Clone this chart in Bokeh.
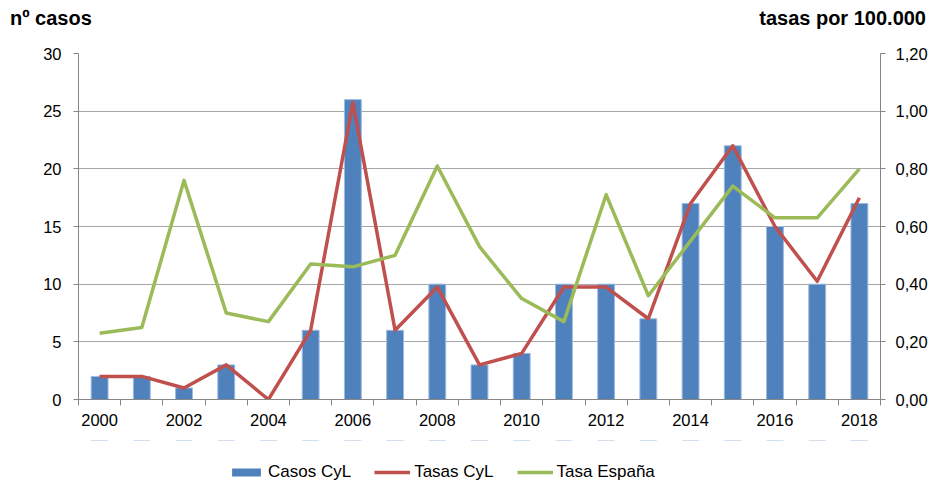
from bokeh.plotting import figure
from bokeh.models import (Range1d, LinearAxis, FixedTicker, Legend, LegendItem,
                          ColumnDataSource, Div)
from bokeh.layouts import column
from bokeh.embed import file_html
from bokeh.resources import INLINE

# ---- data ----
years = list(range(2000, 2019))
casos_cyl = [2, 2, 1, 3, 0, 6, 26, 6, 10, 3, 4, 10, 10, 7, 17, 22, 15, 10, 17]
tasas_cyl = [0.08, 0.08, 0.04, 0.12, 0.00, 0.24, 1.03, 0.24, 0.39, 0.12, 0.16,
             0.39, 0.39, 0.28, 0.68, 0.88, 0.60, 0.41, 0.70]
tasa_espana = [0.23, 0.25, 0.76, 0.30, 0.27, 0.47, 0.46, 0.50, 0.81, 0.53, 0.35,
               0.27, 0.71, 0.36, 0.55, 0.74, 0.63, 0.63, 0.80]
x_tick_years = [2000, 2002, 2004, 2006, 2008, 2010, 2012, 2014, 2016, 2018]
left_ticks = [0, 5, 10, 15, 20, 25, 30]
right_ticks = [0.0, 0.2, 0.4, 0.6, 0.8, 1.0, 1.2]
right_labels = ["0,00", "0,20", "0,40", "0,60", "0,80", "1,00", "1,20"]
left_title = "nº casos"
right_title = "tasas por 100.000"
series_names = ["Casos CyL", "Tasas CyL", "Tasa España"]

BLUE = "#4F81BD"
BAR_EDGE = "#9DBBE0"
RED = "#C0504D"
GREEN = "#9BBB59"
GRID = "#A6A6A6"
AXIS = "#868686"
FONT = "Liberation Sans"
W = 933
H_HEAD, H_MAIN, H_LEG = 30, 410, 47
B_LEFT, B_RIGHT = 78, 53

# ---- header with the two axis titles ----
header = Div(
    text=('<div style="display:flex;justify-content:space-between;box-sizing:border-box;'
          f'width:{W}px;padding:8px 7px 0 10px;font-family:\'Liberation Sans\';'
          'font-weight:bold;font-size:20px;line-height:20px;color:black;">'
          f'<span>{left_title}</span><span>{right_title}</span></div>'),
    width=W, height=H_HEAD, margin=0)

# ---- main chart ----
src = ColumnDataSource(dict(year=years, casos=casos_cyl, tasas=tasas_cyl, esp=tasa_espana))

p = figure(width=W, height=H_MAIN, output_backend="svg", toolbar_location=None,
           x_range=Range1d(years[0] - 0.5, years[-1] + 0.5),
           y_range=Range1d(left_ticks[0], left_ticks[-1]),
           min_border_left=B_LEFT, min_border_right=B_RIGHT,
           min_border_top=23, min_border_bottom=41)
p.outline_line_color = None
p.background_fill_color = "white"
p.border_fill_color = "white"

p.extra_y_ranges = {"r": Range1d(right_ticks[0], right_ticks[-1])}

p.xgrid.visible = False
p.ygrid.grid_line_color = GRID
p.ygrid.grid_line_width = 1
p.ygrid.ticker = FixedTicker(ticks=left_ticks)

boundaries = [y - 0.5 for y in years] + [years[-1] + 0.5]
xa = p.xaxis[0]
xa.ticker = FixedTicker(ticks=x_tick_years, minor_ticks=boundaries)
xa.axis_line_color = AXIS
xa.major_tick_line_color = None
xa.major_tick_out = 6
xa.major_tick_in = 0
xa.minor_tick_line_color = AXIS
xa.minor_tick_out = 6
xa.minor_tick_in = 0
xa.major_label_standoff = 8
xa.major_label_text_font = FONT
xa.major_label_text_font_size = "16.5px"
xa.major_label_text_color = "black"

ya = p.yaxis[0]
ya.ticker = FixedTicker(ticks=left_ticks)
ya.axis_line_color = AXIS
ya.major_tick_line_color = AXIS
ya.major_tick_out = 5
ya.major_tick_in = 0
ya.minor_tick_line_color = None
ya.major_label_standoff = 12
ya.major_label_text_font = FONT
ya.major_label_text_font_size = "16.5px"
ya.major_label_text_color = "black"

ra = LinearAxis(y_range_name="r", ticker=FixedTicker(ticks=right_ticks),
                major_label_overrides={t: l for t, l in zip(right_ticks, right_labels)})
ra.axis_line_color = AXIS
ra.major_tick_line_color = AXIS
ra.major_tick_out = 5
ra.major_tick_in = 0
ra.minor_tick_line_color = None
ra.major_label_standoff = 10
ra.major_label_text_font = FONT
ra.major_label_text_font_size = "16.5px"
ra.major_label_text_color = "black"
p.add_layout(ra, "right")

p.vbar(x="year", top="casos", width=0.4, source=src,
       fill_color=BLUE, line_color=BAR_EDGE, line_width=1)
p.line(x="year", y="tasas", source=src, y_range_name="r",
       line_color=RED, line_width=3.5, line_join="round")
p.line(x="year", y="esp", source=src, y_range_name="r",
       line_color=GREEN, line_width=3.5, line_join="round")

# ---- legend strip (its glyph renderers sit outside their own view range) ----
leg = figure(width=W, height=H_LEG, output_backend="svg", toolbar_location=None,
             x_range=p.x_range, y_range=Range1d(-2, -1),
             x_axis_location=None, y_axis_location=None,
             min_border_left=B_LEFT, min_border_right=B_RIGHT,
             min_border_top=0, min_border_bottom=0)
leg.outline_line_color = None
leg.grid.visible = False
leg.background_fill_color = "white"
leg.border_fill_color = "white"
lb = leg.vbar(x="year", top="casos", width=0.4, source=src,
              fill_color=BLUE, line_color=None)
lr = leg.line(x="year", y="tasas", source=src, line_color=RED, line_width=3.5)
lg = leg.line(x="year", y="esp", source=src, line_color=GREEN, line_width=3.5)
legend = Legend(items=[LegendItem(label=series_names[0], renderers=[lb]),
                       LegendItem(label=series_names[1], renderers=[lr]),
                       LegendItem(label=series_names[2], renderers=[lg])],
                location=(150, 5), orientation="horizontal",
                padding=0, margin=0, spacing=23, label_standoff=4,
                glyph_width=36, glyph_height=10,
                border_line_color=None, background_fill_alpha=0,
                label_text_font=FONT, label_text_font_size="17px",
                label_text_color="black")
leg.add_layout(legend)

layout = column(header, p, leg, spacing=0)
open("out.html", "w").write(file_html(layout, INLINE))
